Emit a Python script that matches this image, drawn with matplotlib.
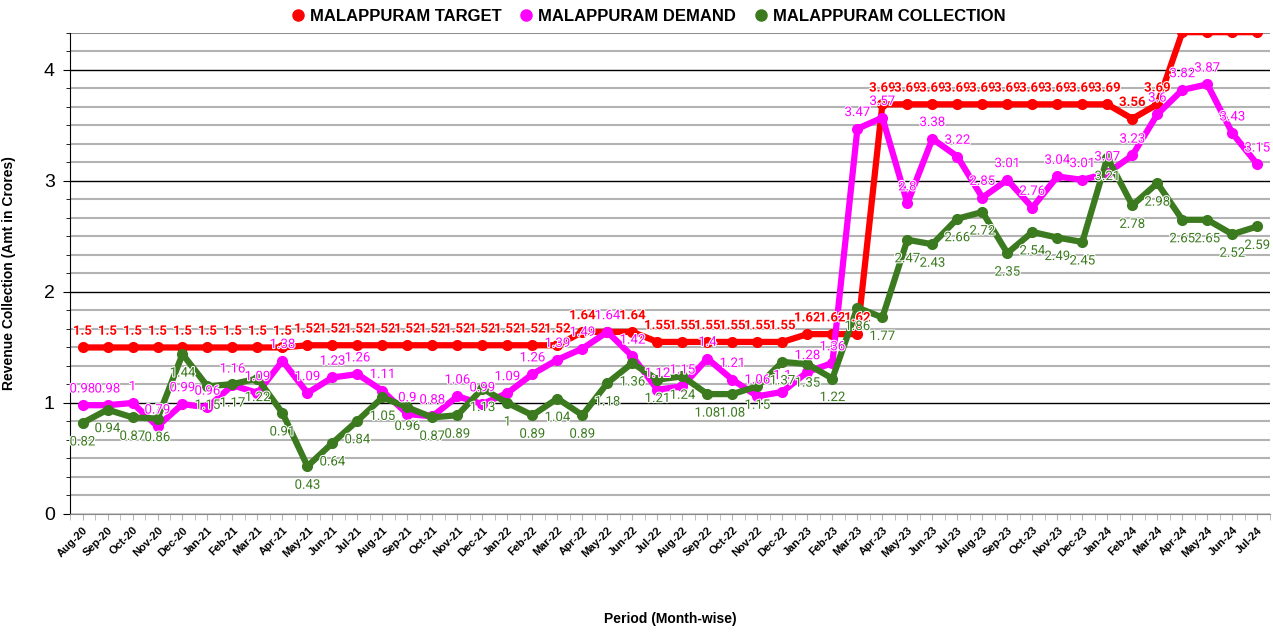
import numpy as np
import matplotlib
matplotlib.use("Agg")
import matplotlib.pyplot as plt
import matplotlib.patheffects as pe
from matplotlib.ticker import MultipleLocator, FixedLocator

months = ["Aug-20", "Sep-20", "Oct-20", "Nov-20", "Dec-20", "Jan-21", "Feb-21", "Mar-21",
          "Apr-21", "May-21", "Jun-21", "Jul-21", "Aug-21", "Sep-21", "Oct-21", "Nov-21",
          "Dec-21", "Jan-22", "Feb-22", "Mar-22", "Apr-22", "May-22", "Jun-22", "Jul-22",
          "Aug-22", "Sep-22", "Oct-22", "Nov-22", "Dec-22", "Jan-23", "Feb-23", "Mar-23",
          "Apr-23", "May-23", "Jun-23", "Jul-23", "Aug-23", "Sep-23", "Oct-23", "Nov-23",
          "Dec-23", "Jan-24", "Feb-24", "Mar-24", "Apr-24", "May-24", "Jun-24", "Jul-24"]

target = [1.5] * 9 + [1.52] * 11 + [1.64] * 3 + [1.55] * 6 + [1.62] * 3 + \
         [3.69] * 10 + [3.56, 3.69] + [4.34] * 4

demand = [0.98, 0.98, 1, 0.79, 0.99, 0.96, 1.16, 1.09, 1.38, 1.09, 1.23, 1.26,
          1.11, 0.9, 0.88, 1.06, 0.99, 1.09, 1.26, 1.39, 1.49, 1.64, 1.42, 1.12,
          1.15, 1.4, 1.21, 1.06, 1.1, 1.28, 1.36, 3.47, 3.57, 2.8, 3.38, 3.22,
          2.85, 3.01, 2.76, 3.04, 3.01, 3.07, 3.23, 3.6, 3.82, 3.87, 3.43, 3.15]

collection = [0.82, 0.94, 0.87, 0.86, 1.44, 1.15, 1.17, 1.22, 0.91, 0.43, 0.64, 0.84,
              1.05, 0.96, 0.87, 0.89, 1.13, 1, 0.89, 1.04, 0.89, 1.18, 1.36, 1.21,
              1.24, 1.08, 1.08, 1.15, 1.37, 1.35, 1.22, 1.86, 1.77, 2.47, 2.43, 2.66,
              2.72, 2.35, 2.54, 2.49, 2.45, 3.21, 2.78, 2.98, 2.65, 2.65, 2.52, 2.59]

RED = "#ff0000"
MAG = "#ff00ff"
GRN = "#3b7a1f"

fig = plt.figure(figsize=(12.73, 6.33), dpi=100)
ax = fig.add_axes([0.055, 0.188, 0.9425, 0.76])
x = np.arange(len(months))
ymax = 4 + 2 / 6

ax.set_xlim(-0.5, len(months) - 0.5)
ax.set_ylim(0, ymax)

# grid: major at integers, minor every 1/6
ax.yaxis.set_major_locator(MultipleLocator(1))
ax.yaxis.set_minor_locator(MultipleLocator(1 / 6))
ax.grid(which="major", axis="y", color="black", linewidth=1.0, zorder=0)
ax.grid(which="minor", axis="y", color="#b3b3b3", linewidth=1.5, zorder=0)
ax.set_axisbelow(True)

ax.plot(x, target, color=RED, lw=4.5, marker="o", ms=7, zorder=3,
        label="MALAPPURAM TARGET")
ax.plot(x, demand, color=MAG, lw=4.5, marker="o", ms=7, zorder=4,
        label="MALAPPURAM DEMAND")
ax.plot(x, collection, color=GRN, lw=4.5, marker="o", ms=7, zorder=5,
        label="MALAPPURAM COLLECTION")

halo = [pe.withStroke(linewidth=1.5, foreground="white")]

def fmt(v):
    return f"{v:g}"

for i in range(len(months)):
    if target[i] < 4:
        ax.annotate(fmt(target[i]), (x[i], target[i]), xytext=(0, 7),
                    textcoords="offset points", ha="center", va="bottom",
                    color=RED, fontsize=9.5, fontweight="bold", family="Roboto",
                    zorder=6, path_effects=halo)
    ax.annotate(fmt(demand[i]), (x[i], demand[i]), xytext=(0, 7),
                textcoords="offset points", ha="center", va="bottom",
                color=MAG, fontsize=9.5, family="Roboto", zorder=6,
                path_effects=halo)
    ax.annotate(fmt(collection[i]), (x[i], collection[i]), xytext=(0, -9),
                textcoords="offset points", ha="center", va="top",
                color=GRN, fontsize=9.5, family="Roboto", zorder=6,
                path_effects=halo)

ax.set_xticks(x)
ax.set_xticklabels(months, rotation=45, ha="right", rotation_mode="anchor",
                   fontsize=8, fontweight="bold", family="Liberation Sans")
ax.xaxis.set_minor_locator(FixedLocator(np.arange(-0.5, len(months), 1)))
ax.tick_params(axis="x", which="both", length=4, color="#b3b3b3", pad=4)
ax.tick_params(axis="y", which="major", length=5, labelsize=14, pad=6)
ax.tick_params(axis="y", which="minor", length=3)
for lab in ax.get_yticklabels():
    lab.set_family("Liberation Sans")

ax.spines["top"].set_visible(False)
ax.spines["right"].set_visible(False)
ax.spines["bottom"].set_color("#888888")
ax.spines["left"].set_color("black")
ax.axhline(ymax, color="#888888", lw=1.2, zorder=1)

ax.set_ylabel("Revenue Collection (Amt in Crores)", fontsize=10, fontweight="bold",
              family="Liberation Sans", labelpad=20)
ax.set_xlabel("Period (Month-wise)", fontsize=10, fontweight="bold",
              family="Liberation Sans", labelpad=38)

leg = fig.legend(*ax.get_legend_handles_labels(), loc="upper center",
                 bbox_to_anchor=(0.51, 1.01), ncol=3, frameon=False,
                 prop={"family": "Liberation Sans", "weight": "bold", "size": 12},
                 handlelength=0.6, handletextpad=0.4, columnspacing=1.2)
for h in leg.legend_handles:
    h.set_linestyle("")
    h.set_markersize(8)

fig.savefig("out.png", dpi=100)
